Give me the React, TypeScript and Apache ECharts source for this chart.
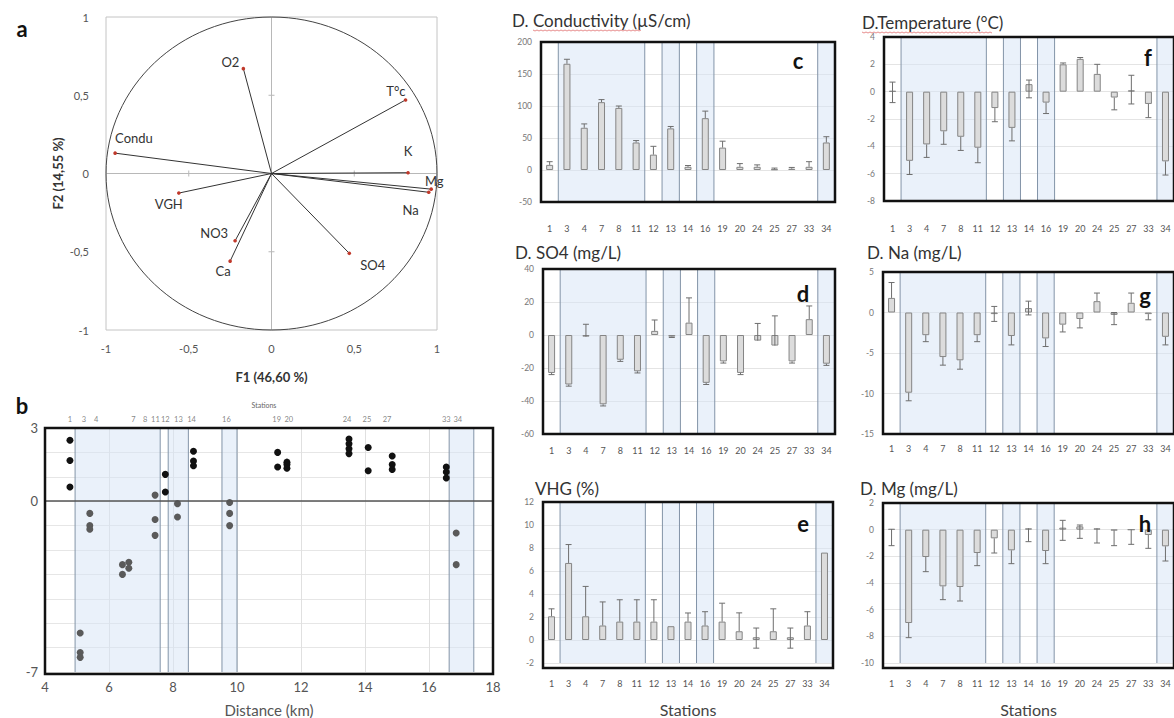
import React, { useEffect, useRef } from 'react';
import * as echarts from 'echarts';

// ---------------- DATA ----------------
const stations = ['1', '3', '4', '7', '8', '11', '12', '13', '14', '16', '19', '20', '24', '25', '27', '33', '34'];
const shadedGroups = [['3', '11'], ['13', '13'], ['16', '16'], ['34', '34']];

// Panel a – PCA correlation circle
const pcaVars = ['O2', 'T°c', 'Condu', 'K', 'Mg', 'Na', 'VGH', 'NO3', 'Ca', 'SO4'];
const pcaF1 = [-0.17, 0.81, -0.945, 0.825, 0.965, 0.95, -0.56, -0.22, -0.25, 0.47];
const pcaF2 = [0.67, 0.47, 0.13, 0.005, -0.1, -0.12, -0.125, -0.43, -0.56, -0.51];

// Panel b – scores vs distance
const stationKm = [4.78, 5.22, 5.6, 6.76, 7.13, 7.45, 7.76, 8.17, 8.58, 9.67, 11.24, 11.62, 13.44, 14.06, 14.69, 16.54, 16.9];
const scoreBlack = [
  [4.78, 2.5], [4.78, 1.67], [4.78, 0.58], [7.76, 1.1], [7.76, 0.38],
  [8.64, 2.05], [8.64, 1.65], [8.64, 1.45], [11.27, 2.0], [11.27, 1.4],
  [11.56, 1.6], [11.56, 1.5], [11.56, 1.35], [13.5, 2.55], [13.5, 2.35],
  [13.5, 2.15], [13.5, 1.95], [14.1, 2.2], [14.1, 1.25], [14.85, 1.85],
  [14.85, 1.5], [14.85, 1.3], [16.54, 1.4], [16.54, 1.2], [16.54, 0.95],
];
const scoreGrey = [
  [5.1, -5.4], [5.1, -6.2], [5.1, -6.4], [5.4, -0.5], [5.4, -1.0], [5.4, -1.15],
  [6.42, -2.6], [6.42, -3.0], [6.62, -2.5], [6.62, -2.75], [7.44, 0.25], [7.44, -0.75],
  [7.44, -1.4], [8.14, -0.1], [8.14, -0.65], [9.77, -0.05], [9.77, -0.5], [9.77, -1.0],
  [16.85, -1.3], [16.85, -2.6],
];
const distShade = [[4.94, 7.6], [7.85, 8.48], [9.53, 10.0], [16.63, 17.4]];
const bTickLabels = [3, 0, -7];

// Panel c – conductivity
const condVals = [8, 166, 66, 106, 97, 43, 24, 65, 5, 81, 35, 5, 5, 1, 2, 5, 43];
const condUp = [5, 7, 6, 4, 3, 3, 13, 3, 2, 11, 10, 5, 3, 2, 2, 8, 9];
const condDn = [0, 0, 0, 0, 0, 0, 0, 0, 0, 0, 0, 0, 0, 0, 0, 0, 0];
// Panel f – temperature
const tempVals = [0.05, -5.06, -3.86, -2.9, -3.3, -4.1, -1.2, -2.65, 0.55, -0.8, 2.0, 2.4, 1.3, -0.43, 0.1, -0.9, -5.1];
const tempUp = [0.65, 0, 0, 0, 0, 0, 0, 0, 0.3, 0, 0.1, 0.1, 0.7, 0, 1.1, 0, 0];
const tempDn = [0.85, 1.0, 0.95, 0.95, 1.0, 1.1, 1.0, 0.95, 1.0, 0.8, 0, 0, 0, 0.9, 1.0, 1.0, 1.0];
// Panel d – SO4
const so4Vals = [-23, -30, -1, -42, -15, -22, 2.5, -1, 7.5, -29, -16, -23, -3.4, -6.4, -16, 9.6, -17.4];
const so4Up = [0, 0, 7.5, 0, 0, 0, 6.6, 0, 15, 0, 0, 0, 10.4, 18, 0, 8, 0];
const so4Dn = [1, 1, 0, 1, 1, 1, 0, 0.5, 0, 1, 1, 1, 0, 0, 1, 0, 1];
// Panel g – Na
const naVals = [1.8, -9.9, -2.8, -5.5, -5.9, -2.8, -0.2, -2.9, 0.55, -3.2, -1.5, -0.8, 1.4, -0.3, 1.2, -0.2, -3.0];
const naUp = [1.9, 0, 0, 0, 0, 0, 0.95, 0, 0.85, 0, 0, 0, 1.0, 0.3, 1.2, 0, 0];
const naDn = [0, 1.0, 0.8, 1.0, 1.1, 0.8, 0.9, 1.1, 0.85, 1.0, 0.9, 1.1, 0, 1.2, 0, 0.7, 1.0];
// Panel e – VHG
const vhgVals = [2.06, 6.7, 2.06, 1.26, 1.6, 1.6, 1.6, 1.2, 1.6, 1.26, 1.6, 0.76, 0.24, 0.76, 0.24, 1.26, 7.6];
const vhgUp = [0.65, 1.6, 2.6, 2.05, 1.9, 1.9, 1.9, 0, 0.75, 1.2, 1.6, 1.6, 0.8, 1.95, 0.8, 1.2, 0];
const vhgDn = [0, 0, 0, 0, 0, 0, 0, 0, 0, 0, 0, 0, 0.95, 0, 0.95, 0, 0];
// Panel h – Mg
const mgVals = [0.05, -7.0, -2.05, -4.25, -4.3, -1.75, -0.65, -1.55, 0.1, -1.6, 0.15, 0.25, 0.1, -0.05, 0, -0.4, -1.25];
const mgUp = [0, 0, 0, 0, 0, 0, 0, 0, 0, 0, 0.55, 0.1, 0, 0, 0, 0, 0];
const mgDn = [1.25, 1.1, 1.1, 1.0, 1.05, 0.95, 1.1, 1.0, 1.0, 0.95, 0.95, 0.9, 1.1, 1.15, 1.1, 1.0, 1.1];

const barPanels = [
  { id: 'c', title: 'D. Conductivity (µS/cm)', vals: condVals, up: condUp, dn: condDn, min: -50, max: 200, interval: 50 },
  { id: 'f', title: 'D.Temperature (°C)', vals: tempVals, up: tempUp, dn: tempDn, min: -8, max: 4, interval: 2 },
  { id: 'd', title: 'D. SO4 (mg/L)', vals: so4Vals, up: so4Up, dn: so4Dn, min: -60, max: 40, interval: 20 },
  { id: 'g', title: 'D. Na (mg/L)', vals: naVals, up: naUp, dn: naDn, min: -15, max: 5, interval: 5 },
  { id: 'e', title: 'VHG (%)', vals: vhgVals, up: vhgUp, dn: vhgDn, min: -2, max: 12, interval: 2 },
  { id: 'h', title: 'D. Mg (mg/L)', vals: mgVals, up: mgUp, dn: mgDn, min: -10, max: 2, interval: 2 },
];

// ---------------- LAYOUT / STYLE ----------------
const FONT = 'Lato, "Open Sans", sans-serif';
const rects: Record<string, { left: number; top: number; width: number; height: number }> = {
  a: { left: 106, top: 17, width: 331, height: 313 },
  b: { left: 45, top: 428, width: 448, height: 246 },
  c: { left: 541, top: 42, width: 294, height: 160 },
  f: { left: 884, top: 37, width: 290, height: 164 },
  d: { left: 543, top: 269, width: 292, height: 165 },
  g: { left: 883, top: 272, width: 291, height: 162 },
  e: { left: 543, top: 502, width: 290, height: 166 },
  h: { left: 883, top: 503, width: 291, height: 165 },
};
const titlePos: Record<string, number[]> = {
  c: [512, 20], f: [862, 22], d: [515, 252], g: [867, 252], e: [535, 488], h: [860, 488],
};
const letterPos: Record<string, number[]> = {
  c: [798, 60], f: [1148, 57], d: [803, 293], g: [1145, 295], e: [803, 523], h: [1145, 523],
};
const xLabelMargin: Record<string, number> = { c: 22, f: 23, d: 12, g: 10, e: 16, h: 16 };
const pcaLabelStyle = [
  { dx: -4, dy: -7, align: 'right' },
  { dx: 0, dy: -9, align: 'right' },
  { dx: 0, dy: -15, align: 'left' },
  { dx: 0, dy: -22, align: 'center' },
  { dx: 3, dy: -8, align: 'center' },
  { dx: -10, dy: 18, align: 'right' },
  { dx: -10, dy: 11, align: 'center' },
  { dx: -7, dy: -8, align: 'right' },
  { dx: -7, dy: 10, align: 'center' },
  { dx: 11, dy: 12, align: 'left' },
];
const SHADE_FILL = 'rgba(214,228,246,0.5)';
const SHADE_LINE = '#8394a8';

const fmtComma = (v: number) => String(v).replace('.', ',');

function shadeCat(groups: number[][]) {
  return (params: any, api: any) => {
    const g = groups[params.dataIndex];
    const bw = api.size([1, 0])[0];
    const x0 = api.coord([g[0], 0])[0] - bw / 2;
    const x1 = api.coord([g[1], 0])[0] + bw / 2;
    const cs = params.coordSys;
    return {
      type: 'group',
      children: [
        { type: 'rect', shape: { x: x0, y: cs.y, width: x1 - x0, height: cs.height }, style: { fill: SHADE_FILL } },
        { type: 'line', shape: { x1: x0, y1: cs.y, x2: x0, y2: cs.y + cs.height }, style: { stroke: SHADE_LINE, lineWidth: 1 } },
        { type: 'line', shape: { x1: x1, y1: cs.y, x2: x1, y2: cs.y + cs.height }, style: { stroke: SHADE_LINE, lineWidth: 1 } },
      ],
    };
  };
}

function shadeVal(ranges: number[][]) {
  return (params: any, api: any) => {
    const r = ranges[params.dataIndex];
    const x0 = api.coord([r[0], 0])[0];
    const x1 = api.coord([r[1], 0])[0];
    const cs = params.coordSys;
    return {
      type: 'group',
      children: [
        { type: 'rect', shape: { x: x0, y: cs.y, width: x1 - x0, height: cs.height }, style: { fill: SHADE_FILL } },
        { type: 'line', shape: { x1: x0, y1: cs.y, x2: x0, y2: cs.y + cs.height }, style: { stroke: SHADE_LINE, lineWidth: 1 } },
        { type: 'line', shape: { x1: x1, y1: cs.y, x2: x1, y2: cs.y + cs.height }, style: { stroke: SHADE_LINE, lineWidth: 1 } },
      ],
    };
  };
}

function errRender(vals: number[], up: number[], dn: number[]) {
  return (params: any, api: any) => {
    const i = params.dataIndex;
    const v = vals[i];
    const p = api.coord([i, v]);
    const t = api.coord([i, v + up[i]])[1];
    const b = api.coord([i, v - dn[i]])[1];
    const st = { stroke: '#6e6e6e', lineWidth: 1 };
    const ch: any[] = [{ type: 'line', shape: { x1: p[0], y1: t, x2: p[0], y2: b }, style: st }];
    if (up[i] > 0) ch.push({ type: 'line', shape: { x1: p[0] - 3, y1: t, x2: p[0] + 3, y2: t }, style: st });
    if (dn[i] > 0) ch.push({ type: 'line', shape: { x1: p[0] - 3, y1: b, x2: p[0] + 3, y2: b }, style: st });
    return { type: 'group', children: ch };
  };
}

function buildOption() {
  const order = ['a', 'b', 'c', 'f', 'd', 'g', 'e', 'h'];
  const grid = order.map((k) => ({ ...rects[k], containLabel: false, show: k === 'a', borderColor: '#c4c4c4', borderWidth: 1 }));
  const xAxis: any[] = [];
  const yAxis: any[] = [];
  const series: any[] = [];
  const graphic: any[] = [];

  // ---- Panel a
  xAxis.push({
    gridIndex: 0, type: 'value', min: -1, max: 1, interval: 0.5,
    axisLine: { show: false }, axisTick: { show: false }, splitLine: { show: false },
    axisLabel: { formatter: fmtComma, fontSize: 11, color: '#555', margin: 13, fontFamily: FONT },
    name: 'F1 (46,60 %)', nameLocation: 'middle', nameGap: 40,
    nameTextStyle: { fontWeight: 'bold', fontSize: 13, color: '#333', fontFamily: FONT },
  });
  yAxis.push({
    gridIndex: 0, type: 'value', min: -1, max: 1, interval: 0.5,
    axisLine: { show: false }, axisTick: { show: false }, splitLine: { show: false },
    axisLabel: { formatter: fmtComma, fontSize: 11, color: '#555', margin: 17, fontFamily: FONT },
    name: 'F2 (14,55 %)', nameLocation: 'middle', nameGap: 42, nameRotate: 90,
    nameTextStyle: { fontWeight: 'bold', fontSize: 13, color: '#333', fontFamily: FONT },
  });
  series.push({
    type: 'custom', xAxisIndex: 0, yAxisIndex: 0, data: [[0, 0]], z: 2, silent: true, clip: false,
    renderItem: (params: any, api: any) => {
      const c = api.coord([0, 0]);
      const rx = api.size([1, 0])[0];
      const ry = api.size([0, 1])[1];
      const cs = params.coordSys;
      const g = { stroke: '#b8b8b8', lineWidth: 1 };
      const ticks: any[] = [];
      [-0.5, 0.5].forEach((t) => {
        const px = api.coord([t, 0]);
        const py = api.coord([0, t]);
        ticks.push({ type: 'line', shape: { x1: px[0], y1: c[1] - 3, x2: px[0], y2: c[1] + 3 }, style: g });
        ticks.push({ type: 'line', shape: { x1: c[0] - 3, y1: py[1], x2: c[0] + 3, y2: py[1] }, style: g });
      });
      return {
        type: 'group',
        children: [
          { type: 'line', shape: { x1: cs.x, y1: c[1], x2: cs.x + cs.width, y2: c[1] }, style: g },
          { type: 'line', shape: { x1: c[0], y1: cs.y, x2: c[0], y2: cs.y + cs.height }, style: g },
          ...ticks,
          { type: 'ellipse', shape: { cx: c[0], cy: c[1], rx, ry }, style: { fill: 'none', stroke: '#444', lineWidth: 1 } },
        ],
      };
    },
  });
  series.push({
    type: 'custom', xAxisIndex: 0, yAxisIndex: 0, z: 3, silent: true, clip: false,
    data: pcaF1.map((x, i) => [x, pcaF2[i]]),
    renderItem: (params: any, api: any) => {
      const i = params.dataIndex;
      const o = api.coord([0, 0]);
      const p = api.coord([pcaF1[i], pcaF2[i]]);
      const s = pcaLabelStyle[i];
      return {
        type: 'group',
        children: [
          { type: 'line', shape: { x1: o[0], y1: o[1], x2: p[0], y2: p[1] }, style: { stroke: '#333', lineWidth: 1 } },
          { type: 'circle', shape: { cx: p[0], cy: p[1], r: 1.8 }, style: { fill: '#c0392b' } },
          {
            type: 'text', x: p[0] + s.dx, y: p[1] + s.dy,
            style: { text: pcaVars[i], fill: '#333', fontSize: 13, fontFamily: FONT, align: s.align, verticalAlign: 'middle' },
          },
        ],
      };
    },
  });

  // ---- Panel b
  xAxis.push({
    gridIndex: 1, type: 'value', min: 4, max: 18, interval: 2,
    axisLine: { show: false }, axisTick: { show: false },
    splitLine: { show: true, lineStyle: { color: '#e0e0e0' } },
    axisLabel: { fontSize: 13, color: '#555', margin: 8, fontFamily: FONT },
    name: 'Distance (km)', nameLocation: 'middle', nameGap: 30,
    nameTextStyle: { fontSize: 15, color: '#555', fontFamily: FONT },
  });
  yAxis.push({
    gridIndex: 1, type: 'value', min: -7, max: 3, interval: 1,
    axisLine: { show: false }, axisTick: { show: false },
    splitLine: { show: true, lineStyle: { color: '#e6e6e6' } },
    axisLabel: {
      fontSize: 13, color: '#555', margin: 7, fontFamily: FONT,
      formatter: (v: number) => (bTickLabels.indexOf(v) >= 0 ? String(v) : ''),
    },
  });
  series.push({
    type: 'custom', xAxisIndex: 1, yAxisIndex: 1, z: 1, silent: true,
    data: distShade.map((r) => [r[0], 0]),
    renderItem: shadeVal(distShade),
  });
  series.push({
    type: 'scatter', xAxisIndex: 1, yAxisIndex: 1, z: 4, symbolSize: 7, silent: true,
    itemStyle: { color: '#5a5a5a', opacity: 1 }, data: scoreGrey,
  });
  series.push({
    type: 'scatter', xAxisIndex: 1, yAxisIndex: 1, z: 4, symbolSize: 7, silent: true,
    itemStyle: { color: '#111', opacity: 1 }, data: scoreBlack,
    markLine: {
      silent: true, symbol: 'none', label: { show: false },
      lineStyle: { color: '#555', width: 1.5, type: 'solid' }, data: [{ yAxis: 0 }],
    },
  });
  series.push({
    type: 'scatter', xAxisIndex: 1, yAxisIndex: 1, z: 4, symbolSize: 0, silent: true, clip: false,
    data: stationKm.map((k) => [k, 3]),
    label: {
      show: true, position: 'top', distance: 5, fontSize: 7.5, color: '#666', fontFamily: FONT,
      formatter: (p: any) => stations[p.dataIndex],
    },
  });

  // ---- Bar panels
  const shadeIdx = shadedGroups.map((g) => [stations.indexOf(g[0]), stations.indexOf(g[1])]);
  barPanels.forEach((bp, k) => {
    const gi = k + 2;
    const isBottom = bp.id === 'e' || bp.id === 'h';
    xAxis.push({
      gridIndex: gi, type: 'category', data: stations,
      axisLine: { show: false }, axisTick: { show: false },
      axisLabel: { interval: 0, fontSize: 9, color: '#555', margin: xLabelMargin[bp.id], fontFamily: FONT },
      name: isBottom ? 'Stations' : '', nameLocation: 'middle', nameGap: 38,
      nameTextStyle: { fontSize: 16, color: '#444', fontFamily: FONT },
    });
    yAxis.push({
      gridIndex: gi, type: 'value', min: bp.min, max: bp.max, interval: bp.interval,
      axisLine: { show: false }, axisTick: { show: false },
      splitLine: { show: true, lineStyle: { color: '#e4e4e4' } },
      axisLabel: { fontSize: 8.5, color: '#777', margin: 9, fontFamily: FONT },
    });
    series.push({
      type: 'custom', xAxisIndex: gi, yAxisIndex: gi, z: 1, silent: true,
      data: shadeIdx.map((g) => [g[0], 0]), renderItem: shadeCat(shadeIdx),
    });
    series.push({
      type: 'bar', xAxisIndex: gi, yAxisIndex: gi, z: 2, silent: true, barWidth: 7,
      data: bp.vals,
      itemStyle: { color: '#dcdcdc', borderColor: '#858585', borderWidth: 1 },
    });
    series.push({
      type: 'custom', xAxisIndex: gi, yAxisIndex: gi, z: 3, silent: true, clip: false,
      data: bp.vals.map((v, i) => [i, v]), renderItem: errRender(bp.vals, bp.up, bp.dn),
    });
    const r = rects[bp.id];
    graphic.push({
      type: 'rect', z: 50, silent: true,
      shape: { x: r.left, y: r.top, width: r.width, height: r.height },
      style: { fill: 'none', stroke: '#111', lineWidth: 2.5 },
    });
    graphic.push({
      type: 'text', z: 50, x: titlePos[bp.id][0], y: titlePos[bp.id][1],
      style: { text: bp.title, fontSize: 17, fill: '#333', fontFamily: FONT, verticalAlign: 'middle' },
    });
    graphic.push({
      type: 'text', z: 51, x: letterPos[bp.id][0], y: letterPos[bp.id][1],
      style: { text: bp.id, fontSize: 22, fontWeight: 'bold', fill: '#111', fontFamily: FONT, align: 'center', verticalAlign: 'middle' },
    });
  });

  // frame b and misc labels
  const rb = rects.b;
  graphic.push({
    type: 'rect', z: 50, silent: true,
    shape: { x: rb.left, y: rb.top, width: rb.width, height: rb.height },
    style: { fill: 'none', stroke: '#111', lineWidth: 2.5 },
  });
  graphic.push({ type: 'text', z: 50, x: 22, y: 28, style: { text: 'a', fontSize: 22, fontWeight: 'bold', fill: '#111', fontFamily: FONT, align: 'center', verticalAlign: 'middle' } });
  graphic.push({ type: 'text', z: 50, x: 22, y: 405, style: { text: 'b', fontSize: 22, fontWeight: 'bold', fill: '#111', fontFamily: FONT, align: 'center', verticalAlign: 'middle' } });
  graphic.push({ type: 'text', z: 50, x: 264, y: 405, style: { text: 'Stations', fontSize: 7, fill: '#666', fontFamily: FONT, align: 'center', verticalAlign: 'middle' } });
  // spell-check underlines
  const wavy = (x0: number, x1: number, y: number) => {
    const pts: number[][] = [];
    for (let x = x0, j = 0; x <= x1; x += 2, j++) pts.push([x, y + (j % 2 ? 1 : 0)]);
    return { type: 'polyline', z: 50, silent: true, shape: { points: pts }, style: { stroke: '#e07070', lineWidth: 0.8, fill: 'none' } };
  };
  graphic.push(wavy(533, 642, 30));
  graphic.push(wavy(862, 993, 32));

  return { animation: false, backgroundColor: '#fff', grid, xAxis, yAxis, series, graphic };
}

export default function App() {
  const ref = useRef<HTMLDivElement>(null);
  useEffect(() => {
    const chart = echarts.init(ref.current!, null, { renderer: 'svg' });
    chart.setOption(buildOption() as any);
    return () => chart.dispose();
  }, []);
  return (
    <div
      ref={ref}
      style={{ position: 'absolute', left: 0, top: 0, width: 1174, height: 718, background: '#fff' }}
    />
  );
}
